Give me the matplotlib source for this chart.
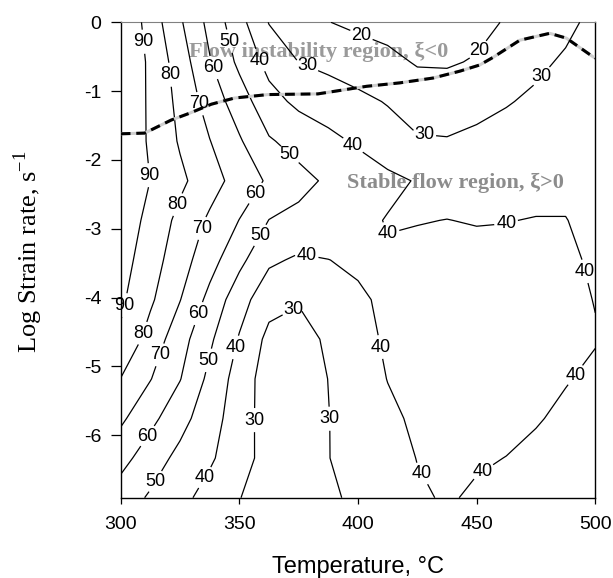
import matplotlib
matplotlib.use("Agg")
import matplotlib.pyplot as plt
import numpy as np

plt.rcParams["font.family"] = ["Liberation Sans", "DejaVu Sans"]
plt.rcParams["axes.unicode_minus"] = False

# grid (efficiency, %)
temperature = [300, 312.5, 325, 337.5, 350, 362.5, 375, 387.5, 400,
               412.5, 425, 437.5, 450, 462.5, 475, 487.5, 500]
log_strain_rate = [0.0, -0.576, -1.151, -1.727, -2.303, -2.878, -3.454,
                   -4.030, -4.605, -5.181, -5.756, -6.332, -6.908]
efficiency = [
    [100.3, 85.6, 71.3, 57.2, 43.3, 29.6, 25.0, 20.2, 18.0, 16.5, 15.5, 15.5, 17.0, 20.8, 24.6, 28.2, 32.0],
    [100.3, 88.0, 75.1, 60.7, 47.8, 36.9, 29.9, 27.5, 25.0, 22.5, 19.2, 19.0, 20.8, 24.9, 28.5, 31.0, 33.0],
    [99.3, 88.3, 77.3, 65.8, 54.9, 43.4, 37.9, 35.1, 32.3, 29.4, 25.5, 25.2, 27.5, 29.5, 31.3, 32.8, 34.0],
    [98.3, 88.6, 79.0, 70.3, 61.1, 51.0, 46.5, 42.5, 38.7, 34.5, 31.0, 30.6, 31.8, 32.8, 33.8, 34.8, 35.3],
    [97.7, 89.9, 82.1, 74.1, 66.0, 58.5, 53.0, 48.5, 45.4, 42.2, 39.4, 37.0, 35.8, 36.4, 37.3, 38.2, 36.4],
    [96.6, 86.9, 77.3, 68.4, 59.8, 49.8, 47.4, 45.0, 42.4, 39.5, 39.7, 40.1, 39.6, 39.8, 40.3, 40.2, 37.8],
    [94.1, 84.5, 74.3, 63.9, 52.6, 41.7, 38.6, 39.9, 41.3, 41.0, 42.0, 42.2, 42.3, 42.3, 42.0, 41.0, 39.2],
    [91.7, 81.6, 70.3, 57.2, 44.0, 33.6, 30.6, 34.5, 38.8, 41.5, 43.0, 43.5, 43.5, 43.2, 42.5, 41.3, 39.85],
    [88.6, 76.1, 64.0, 51.7, 39.2, 27.3, 27.0, 31.2, 36.4, 41.5, 43.5, 44.0, 44.2, 44.0, 43.3, 42.0, 40.3],
    [79.8, 70.4, 60.4, 47.6, 35.6, 25.0, 26.0, 30.1, 35.2, 40.2, 42.5, 43.5, 43.5, 43.0, 42.0, 40.3, 39.0],
    [71.8, 62.7, 53.5, 44.2, 34.8, 25.4, 26.0, 29.8, 34.0, 38.2, 41.5, 42.5, 42.5, 41.8, 40.4, 39.0, 38.0],
    [63.5, 54.8, 47.3, 41.4, 34.0, 26.2, 26.0, 29.8, 33.3, 36.6, 40.2, 41.0, 40.8, 39.9, 38.8, 37.8, 37.0],
    [55.0, 48.8, 42.7, 36.5, 30.3, 25.0, 25.5, 28.6, 31.7, 35.1, 39.0, 40.7, 39.0, 37.5, 36.5, 35.8, 35.3],
]
levels = [20, 30, 40, 50, 60, 70, 80, 90]

# instability boundary (xi = 0)
boundary_temp = [300.0, 310.1, 321.3, 329.1, 338.2, 348.0, 362.0, 383.1, 403.6,
                 417.6, 431.6, 442.9, 451.3, 456.9, 468.2, 480.8, 487.8, 499.0, 500.0]
boundary_rate = [-1.62, -1.61, -1.42, -1.32, -1.19, -1.10, -1.05, -1.04, -0.93,
                 -0.88, -0.81, -0.71, -0.62, -0.51, -0.26, -0.16, -0.23, -0.50, -0.52]

# where the contour labels sit
label_spots = [
    (310.2, -0.28), (312.8, -2.22), (301.7, -4.11),
    (321.3, -0.76), (324.1, -2.65), (309.4, -4.52),
    (332.6, -1.19), (333.9, -2.99), (317.1, -4.84),
    (339.0, -0.66), (355.7, -2.46), (332.6, -4.23), (310.8, -6.0),
    (345.2, -0.28), (369.1, -2.0), (358.5, -3.09), (336.8, -4.91), (313.6, -6.65),
    (357.1, -0.57), (398.0, -1.78), (409.2, -3.14), (462.6, -2.97), (495.5, -3.62),
    (378.2, -3.41), (348.0, -4.72), (334.7, -6.6), (409.2, -4.72), (426.8, -6.56),
    (490.6, -5.10), (453.4, -6.56),
    (378.2, -0.66), (428.1, -1.54), (475.9, -0.74), (371.8, -4.11), (356.4, -5.78),
    (388.1, -5.76),
    (401.5, -0.18), (450.6, -0.40),
]

fig = plt.figure(figsize=(6.13, 5.78), dpi=100)
ax = fig.add_axes([0.1969, 0.1389, 0.7742, 0.8225])

T, S = np.meshgrid(temperature, log_strain_rate)
cs = ax.contour(T, S, np.array(efficiency), levels=levels, colors="black",
                linewidths=0.9, zorder=3)
texts = ax.clabel(cs, inline=True, fmt="%d", fontsize=13, manual=label_spots,
                  inline_spacing=2)
for t in texts:
    t.set_rotation(0)
    t.set_clip_on(False)

ax.plot(boundary_temp, boundary_rate, color="#cfcfcf", lw=2.2, zorder=4,
        solid_capstyle="butt")
ax.plot(boundary_temp, boundary_rate, color="black", lw=2.2, zorder=5,
        dashes=(3.2, 1.9))

serif = ["Liberation Serif", "DejaVu Serif"]
ax.text(383.6, -0.50, "Flow instability region, \u03be<0", family=serif,
        weight="bold", color="#9a9a9a", fontsize=16, ha="center",
        va="baseline", zorder=1)
ax.text(441.1, -2.413, "Stable flow region, \u03be>0", family=serif,
        weight="bold", color="#8c8c8c", fontsize=16, ha="center",
        va="baseline", zorder=1)

ax.set_xlim(300, 500)
ax.set_ylim(-6.908, 0)
ax.set_xticks([300, 350, 400, 450, 500])
ax.set_yticks([-6, -5, -4, -3, -2, -1, 0])
ax.tick_params(axis="x", direction="out", length=4, width=0.9, pad=9,
               labelsize=14)
ax.tick_params(axis="y", direction="out", length=7, width=0.9, pad=7,
               labelsize=14)
for side in ["left", "bottom", "right"]:
    ax.spines[side].set_linewidth(1.0)
ax.spines["top"].set_color("#808080")

ax.set_xlabel("Temperature, \u00b0C", fontsize=17)
ax.xaxis.set_label_coords(0.5, -0.122)
ax.set_ylabel("Log Strain rate, s$^{\\mathregular{-1}}$", family=serif,
              fontsize=19)
ax.yaxis.set_label_coords(-0.159, 0.518)

fig.savefig("out.png", dpi=100)
